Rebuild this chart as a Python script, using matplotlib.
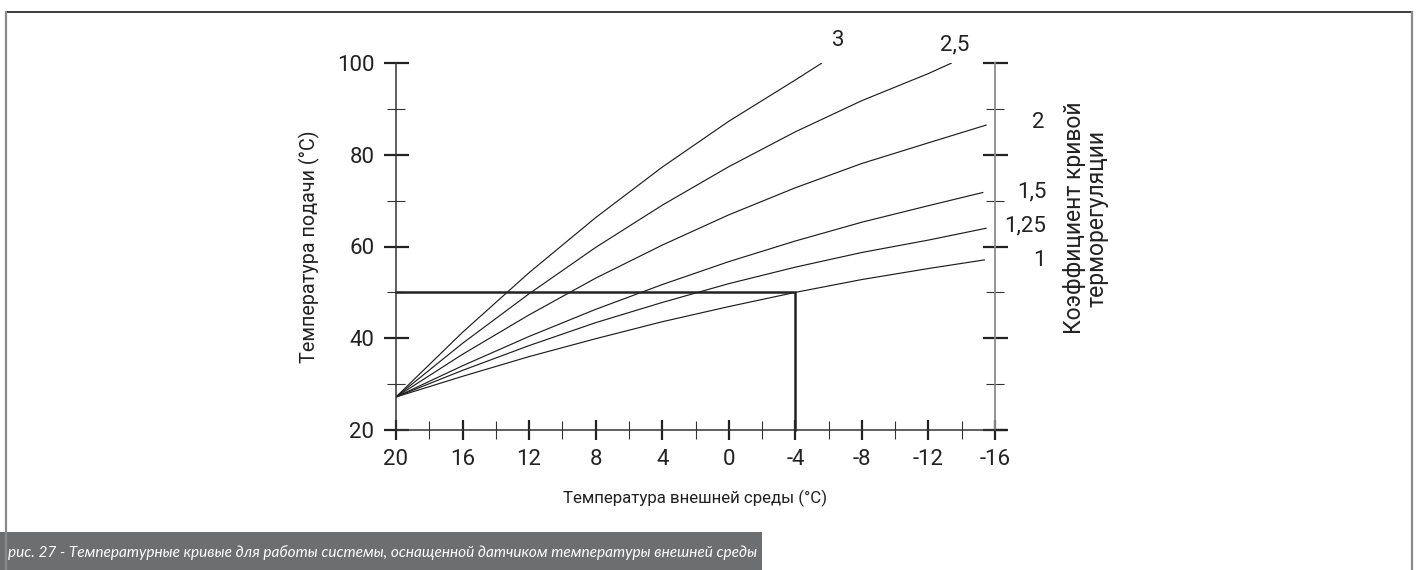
import matplotlib
matplotlib.use("Agg")
import matplotlib.pyplot as plt
from matplotlib.lines import Line2D
from matplotlib.patches import Rectangle

plt.rcParams['font.family'] = ['Roboto', 'DejaVu Sans']

# Outdoor temperature (°C) sample points shared by the heating curves
outdoor = [20, 16, 12, 8, 4, 0, -4, -8, -12]

# Flow temperature (°C) read along each curve coefficient
curve_3 = [27.2, 41.3, 54.3, 66.3, 77.3, 87.3, 96.3]
curve_3_end = (-5.6, 100.0)

curve_25 = [27.2, 38.9, 49.7, 59.8, 69.0, 77.4, 85.0, 91.8, 97.7]
curve_25_end = (-13.4, 100.0)

curve_2 = [27.2, 36.5, 45.1, 53.1, 60.3, 66.9, 72.8, 78.1, 82.6]
curve_2_end = (-15.5, 86.5)

curve_15 = [27.2, 34.0, 40.4, 46.3, 51.7, 56.7, 61.2, 65.3, 68.9]
curve_15_end = (-15.3, 71.8)

curve_125 = [27.2, 33.0, 38.4, 43.4, 47.8, 51.9, 55.5, 58.7, 61.4]
curve_125_end = (-15.5, 64.0)

curve_1 = [27.2, 31.7, 36.0, 39.9, 43.6, 46.9, 50.0, 52.8, 55.2]
curve_1_end = (-15.4, 57.1)

coef_labels = ["3", "2,5", "2", "1,5", "1,25", "1"]

# Worked example: -4 °C outdoor with coefficient 1 gives 50 °C flow
example_outdoor = -4
example_flow = 50

x_major = [20, 16, 12, 8, 4, 0, -4, -8, -12, -16]
x_minor = [18, 14, 10, 6, 2, -2, -6, -10, -14]
y_major = [20, 40, 60, 80, 100]
y_minor = [30, 50, 70, 90]

W, H = 1417, 570
fig = plt.figure(figsize=(W / 100, H / 100), dpi=100)

# outer frame
fig.add_artist(Line2D([6 / W, 1412 / W], [1 - 11.5 / H, 1 - 11.5 / H],
                      transform=fig.transFigure, color='#1a1a1a', lw=1.2))
fig.add_artist(Line2D([5.5 / W, 5.5 / W], [0, 1 - 11.5 / H],
                      transform=fig.transFigure, color='#8a8a8a', lw=1.6))
fig.add_artist(Line2D([1412 / W, 1412 / W], [0, 1 - 11.5 / H],
                      transform=fig.transFigure, color='#8a8a8a', lw=1.6))

ax = fig.add_axes([396 / W, 1 - 430 / H, (995 - 396) / W, (430 - 63) / H])
ax.set_xlim(20, -16)
ax.set_ylim(20, 100)
ax.patch.set_alpha(0)

ax.spines['top'].set_visible(False)
for s in ('left', 'bottom'):
    ax.spines[s].set_color('#333333')
    ax.spines[s].set_linewidth(1.1)
ax.spines['right'].set_color('#8c8c8c')
ax.spines['right'].set_linewidth(1.3)

ax.set_xticks(x_major)
ax.set_xticks(x_minor, minor=True)
ax.set_xticklabels([str(v) for v in x_major])
ax.set_yticks(y_major)
ax.set_yticks(y_minor, minor=True)
ax.set_yticklabels([str(v) for v in y_major])

ax.tick_params(axis='y', which='major', direction='inout', length=18, width=1.6,
               left=True, right=True, color='#222222', labelsize=16, pad=6.5,
               labelcolor='#222222')
ax.tick_params(axis='y', which='minor', direction='inout', length=13.5, width=0.8,
               left=True, right=True, color='#333333')
ax.tick_params(axis='x', which='major', direction='inout', length=14, width=1.6,
               color='#222222', labelsize=16, pad=7, labelcolor='#222222')
ax.tick_params(axis='x', which='minor', direction='inout', length=13, width=0.8,
               color='#333333')

line_kw = dict(color='#1e1e1e', lw=0.85, solid_capstyle='butt')
n3 = len(curve_3)
ax.plot(outdoor[:n3] + [curve_3_end[0]], curve_3 + [curve_3_end[1]], **line_kw)
ax.plot(outdoor + [curve_25_end[0]], curve_25 + [curve_25_end[1]], **line_kw)
ax.plot(outdoor + [curve_2_end[0]], curve_2 + [curve_2_end[1]], **line_kw)
ax.plot(outdoor + [curve_15_end[0]], curve_15 + [curve_15_end[1]], **line_kw)
ax.plot(outdoor + [curve_125_end[0]], curve_125 + [curve_125_end[1]], **line_kw)
ax.plot(outdoor + [curve_1_end[0]], curve_1 + [curve_1_end[1]], **line_kw)

# example reading lines
ax.plot([20, example_outdoor, example_outdoor], [example_flow, example_flow, 20],
        color='#222222', lw=1.8, solid_joinstyle='miter', clip_on=False)

# short extension past the bottom-right corner of the frame
ax.plot([-16, -16.65], [20, 20], color='#222222', lw=1.6, clip_on=False)

# coefficient labels next to curve ends
label_pos = [(-6.6, 105.0), (-13.6, 104.0), (-18.6, 87.0),
             (-18.2, 72.0), (-17.8, 64.5), (-18.7, 57.0)]
for txt, (lx, ly) in zip(coef_labels, label_pos):
    ax.text(lx, ly, txt, fontsize=16, color='#222222', ha='center', va='center',
            clip_on=False)

ax.set_ylabel('Температура подачи (°C)', fontsize=14.2, color='#222222', labelpad=12)
ax.set_xlabel('Температура внешней среды (°C)', fontsize=12.2, color='#222222',
              labelpad=14)

fig.text(1086 / W, 1 - 218 / H, 'Коэффициент кривой\nтерморегуляции', rotation=90,
         fontsize=16.5, color='#222222', ha='center', va='center',
         multialignment='center', linespacing=0.95)

# caption bar
fig.add_artist(Rectangle((0, 0), 762 / W, 38 / H, transform=fig.transFigure,
                         facecolor='#6d6e70', edgecolor='none'))
fig.text(8 / W, 17 / H,
         'рис. 27 - Температурные кривые для работы системы, оснащенной датчиком температуры внешней среды',
         fontsize=11.1, color='white', style='italic', ha='left', va='center',
         family=['Lato', 'DejaVu Sans'])

fig.savefig('out.png', dpi=100)
